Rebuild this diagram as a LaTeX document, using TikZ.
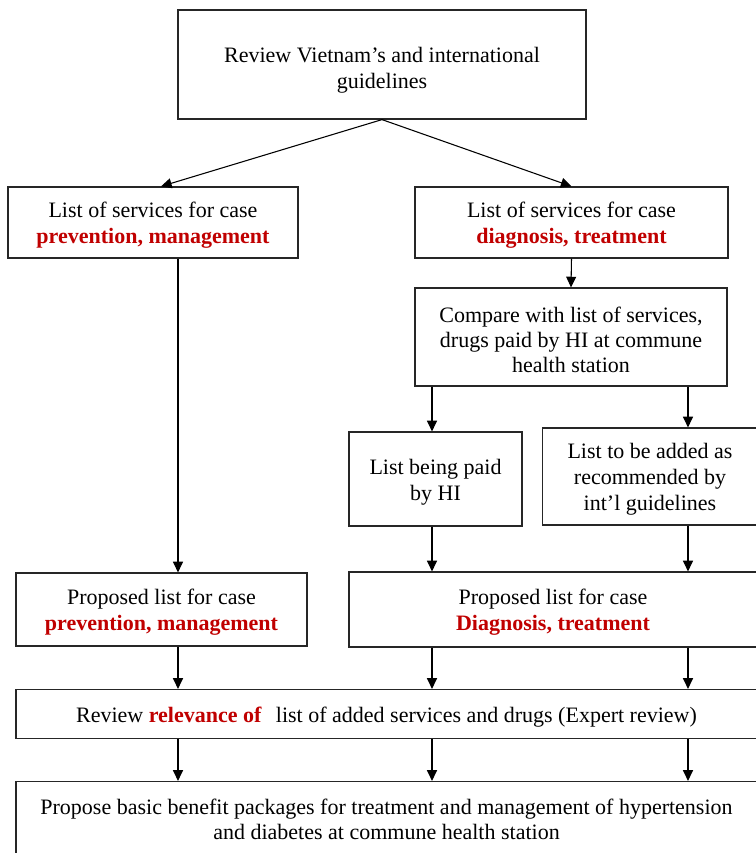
\documentclass[tikz,border=0pt]{standalone}
\usepackage{fontspec}
\setmainfont{Liberation Serif}
\usetikzlibrary{arrows.meta}
\definecolor{hired}{RGB}{192,0,0}
\begin{document}
\begin{tikzpicture}[x=0.75pt,y=-0.75pt,
  box/.style={draw=black!85, line width=0.9pt, inner sep=0pt, align=center,
    font=\fontsize{16.5}{19.5}\selectfont},
  arr/.style={draw=black, line width=0.8pt, -{Triangle[length=8pt,width=7.5pt]}}]
\newcommand{\rb}[1]{\textcolor{hired}{\textbf{#1}}}
\newcommand{\tp}{\rule{0pt}{16pt}}
\useasboundingbox (0,0) rectangle (756,853);
\coordinate (c1) at (178,0);
\coordinate (c2) at (432,0);
\coordinate (c3) at (688,0);

\node[box, minimum width=306pt, minimum height=81.75pt] (top) at (382,64.5)
  {\rule{0pt}{19.5pt}Review Vietnam’s and international\\guidelines};
\node[box, minimum width=217.5pt, minimum height=53.25pt] (L1) at (153,222.5)
  {\tp List of services for case\\\rb{prevention, management}};
\node[box, minimum width=234.75pt, minimum height=53.25pt] (R1) at (571.5,222.5)
  {\tp List of services for case\\\rb{diagnosis, treatment}};
\node[box, minimum width=234pt, minimum height=73.5pt, font=\fontsize{16.5}{18.5}\selectfont] (cmp) at (571,337)
  {\tp Compare with list of services,\\drugs paid by HI at commune\\health station};
\node[box, minimum width=129.75pt, minimum height=70.5pt] (paid) at (435.5,479)
  {\tp List being paid\\by HI};
\node[box, minimum width=161pt, minimum height=72.75pt] (add) at (650,476.5)
  {\tp List to be added as\\recommended by\\int’l guidelines};
\node[box, minimum width=218.25pt, minimum height=54.75pt] (PL) at (161.5,609.5)
  {\tp Proposed list for case\\\rb{prevention, management}};
\node[box, minimum width=306pt, minimum height=56.25pt] (PR) at (553,609.5)
  {\tp Proposed list for case\\\rb{Diagnosis, treatment}};
\node[box, minimum width=555.75pt, minimum height=36.75pt] (rev) at (386.5,714)
  {\tp Review \rb{relevance of}\hspace{0.4em} list of added services and drugs (Expert review)};
\node[box, minimum width=555.75pt, minimum height=57pt, font=\fontsize{16.5}{18.5}\selectfont] (prop) at (386.5,819.5)
  {Propose basic benefit packages for treatment and management of hypertension\\and diabetes at commune health station};

\draw[arr] (top.south) -- ([xshift=6pt]L1.north);
\draw[arr] (top.south) -- (R1.north);
\draw[arr] (R1.south) -- (cmp.north);
\draw[arr] (cmp.south -| c2) -- (paid.north -| c2);
\draw[arr] (cmp.south -| c3) -- (add.north -| c3);
\draw[arr] (L1.south -| c1) -- (PL.north -| c1);
\draw[arr] (paid.south -| c2) -- (PR.north -| c2);
\draw[arr] (add.south -| c3) -- (PR.north -| c3);
\draw[arr] (PL.south -| c1) -- (rev.north -| c1);
\draw[arr] (PR.south -| c2) -- (rev.north -| c2);
\draw[arr] (PR.south -| c3) -- (rev.north -| c3);
\draw[arr] (rev.south -| c1) -- (prop.north -| c1);
\draw[arr] (rev.south -| c2) -- (prop.north -| c2);
\draw[arr] (rev.south -| c3) -- (prop.north -| c3);
\end{tikzpicture}
\end{document}
